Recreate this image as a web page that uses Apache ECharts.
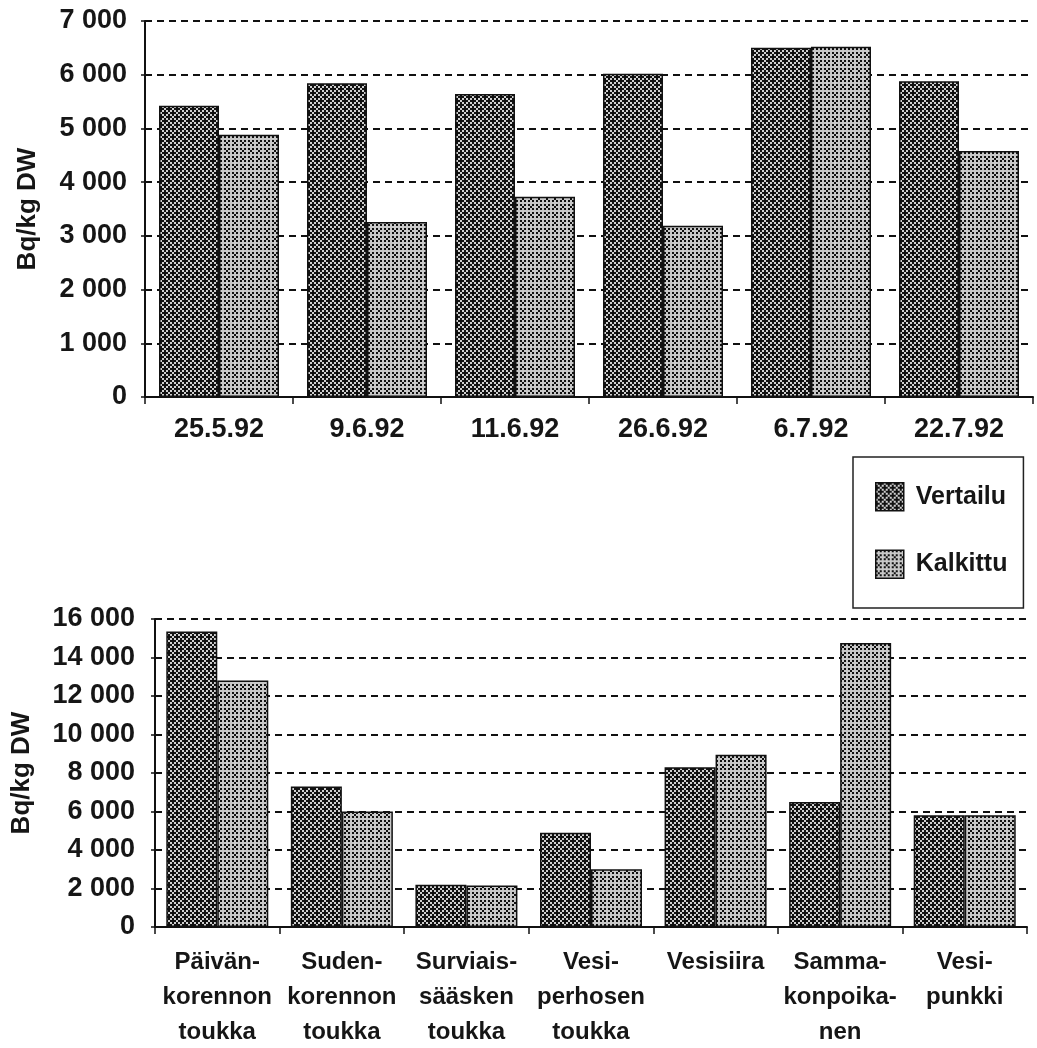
<!DOCTYPE html>
<html>
<head>
<meta charset="utf-8">
<script src="https://cdn.jsdelivr.net/npm/echarts@6/dist/echarts.min.js"></script>
<style>
  html, body { margin: 0; padding: 0; background: #fff; }
  #chart { width: 1037px; height: 1048px; }
</style>
</head>
<body>
<div id="chart"></div>
<script>
// Sampling dates (upper panel)
const dates = ['25.5.92', '9.6.92', '11.6.92', '26.6.92', '6.7.92', '22.7.92'];
const datesVertailu = [5420, 5840, 5640, 6020, 6500, 5880];
const datesKalkittu = [4880, 3260, 3730, 3190, 6520, 4580];

// Taxa (lower panel)
const taxa = [
  'Päivän-\nkorennon\ntoukka',
  'Suden-\nkorennon\ntoukka',
  'Surviais-\nsääsken\ntoukka',
  'Vesi-\nperhosen\ntoukka',
  'Vesisiira',
  'Samma-\nkonpoika-\nnen',
  'Vesi-\npunkki'
];
const taxaVertailu = [15350, 7300, 2200, 4900, 8300, 6500, 5800];
const taxaKalkittu = [12800, 6000, 2150, 3000, 8950, 14750, 5800];

const seriesNames = ['Vertailu', 'Kalkittu'];

// Dithered fills for the two treatments
function makePattern(bg, isDot) {
  const cell = 2, n = 4;
  const c = document.createElement('canvas');
  c.width = c.height = cell * n;
  const ctx = c.getContext('2d');
  ctx.fillStyle = bg;
  ctx.fillRect(0, 0, c.width, c.height);
  ctx.fillStyle = '#111';
  for (let y = 0; y < n; y++) {
    for (let x = 0; x < n; x++) {
      if (isDot(x, y)) ctx.fillRect(x * cell, y * cell, cell, cell);
    }
  }
  return { image: c, repeat: 'repeat' };
}
const darkFill = makePattern('#cfcfcf', (x, y) => (x + y) % 4 !== 0 && (x - y + 4) % 4 !== 0);
const lightFill = makePattern('#c8c8c8', (x, y) => (y % 2 === 0 && (x + y) % 2 === 0) || (x === 1 && y === 3));

const FONT = 'Liberation Sans';
const TEXT = '#161616';
const fmt = v => {
  const s = String(v);
  return s.length > 3 ? s.slice(0, s.length - 3) + ' ' + s.slice(-3) : s;
};

function valueAxis(gridIndex, max, interval, nameGap, margin) {
  return {
    type: 'value', gridIndex, min: 0, max, interval,
    name: 'Bq/kg DW', nameLocation: 'middle', nameRotate: 90, nameGap,
    nameTextStyle: { fontFamily: FONT, fontWeight: 'bold', fontSize: 26, color: TEXT },
    axisLine: { show: true, lineStyle: { color: '#111', width: 2 } },
    axisTick: { show: true, length: 4, lineStyle: { color: '#111', width: 1.5 } },
    axisLabel: { fontFamily: FONT, fontWeight: 'bold', fontSize: 27, color: TEXT, margin, formatter: fmt },
    splitLine: { show: true, lineStyle: { color: '#111', width: 2, type: [7, 5] } }
  };
}

function catAxis(gridIndex, data, margin, fontSize, lineHeight) {
  return {
    type: 'category', gridIndex, data,
    axisLine: { show: true, lineStyle: { color: '#111', width: 2 } },
    axisTick: { show: true, length: 7, lineStyle: { color: '#111', width: 1.5 } },
    axisLabel: { fontFamily: FONT, fontWeight: 'bold', fontSize, color: TEXT, margin, lineHeight, interval: 0 }
  };
}

function bars(name, data, fill, xi, width) {
  return {
    name, type: 'bar', data, xAxisIndex: xi, yAxisIndex: xi,
    barWidth: width, barGap: '0%',
    itemStyle: { color: fill, borderColor: '#111', borderWidth: 1.5 },
    emphasis: { disabled: true }
  };
}

const chart = echarts.init(document.getElementById('chart'), null, { renderer: 'canvas' });
chart.setOption({
  animation: false,
  backgroundColor: '#fff',
  grid: [
    { left: 145, top: 21, right: 4, height: 376, outerBoundsMode: 'none', containLabel: false },
    { left: 155, top: 619, right: 10, height: 308, outerBoundsMode: 'none', containLabel: false }
  ],
  legend: {
    data: seriesNames,
    orient: 'vertical',
    left: 853, top: 457,
    padding: [25, 16, 29, 22],
    itemWidth: 28, itemHeight: 28, itemGap: 38,
    borderColor: '#222', borderWidth: 1.5,
    icon: 'rect',
    itemStyle: { borderColor: '#111', borderWidth: 1.5 },
    textStyle: { fontFamily: FONT, fontWeight: 'bold', fontSize: 25, color: TEXT, padding: [0, 0, 0, 7] },
    selectedMode: false
  },
  xAxis: [
    catAxis(0, dates, 18, 27, 30),
    catAxis(1, taxa, 18, 24, 35)
  ],
  yAxis: [
    valueAxis(0, 7000, 1000, 104, 18),
    valueAxis(1, 16000, 2000, 120, 20)
  ],
  series: [
    bars(seriesNames[0], datesVertailu, darkFill, 0, 60),
    bars(seriesNames[1], datesKalkittu, lightFill, 0, 60),
    bars(seriesNames[0], taxaVertailu, darkFill, 1, 51),
    bars(seriesNames[1], taxaKalkittu, lightFill, 1, 51)
  ]
});
</script>
</body>
</html>
